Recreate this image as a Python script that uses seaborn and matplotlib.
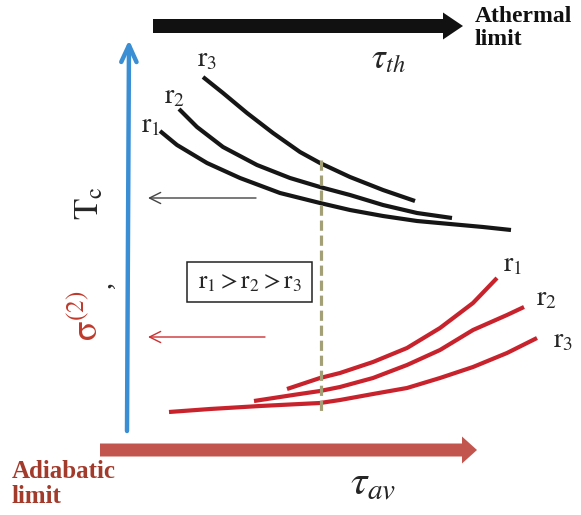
import matplotlib

matplotlib.use("Agg")
import matplotlib.pyplot as plt
import pandas as pd
import seaborn as sns
from matplotlib.patches import Rectangle

# Curve traces, in canvas units (x to the right, y downward).
TC_R1_X = [160, 177, 207, 240, 280, 320, 350, 383, 417, 450, 483, 511]
TC_R1_Y = [131, 145, 163, 178, 193, 203, 210, 216, 221, 224, 227, 230]
TC_R2_X = [179, 197, 223, 257, 290, 320, 350, 383, 417, 452]
TC_R2_Y = [109, 127, 147, 165, 178, 187, 195, 205, 213, 218]
TC_R3_X = [203, 223, 247, 273, 300, 320, 350, 383, 415]
TC_R3_Y = [77, 93, 113, 133, 152, 163, 177, 190, 201]

SIG_R1_X = [287, 320, 340, 373, 407, 440, 473, 497]
SIG_R1_Y = [389, 378, 373, 362, 348, 328, 303, 278]
SIG_R2_X = [254, 293, 320, 340, 373, 407, 440, 473, 507, 524]
SIG_R2_Y = [401, 395, 391, 387, 378, 365, 350, 330, 315, 307]
SIG_R3_X = [169, 210, 260, 320, 340, 373, 407, 440, 473, 507, 537]
SIG_R3_Y = [412, 409, 406, 403, 400, 394, 388, 378, 367, 353, 338]

CURVE_NAMES = ["r1", "r2", "r3"]
CURVE_LABELS = [r"$\mathrm{r}_1$", r"$\mathrm{r}_2$", r"$\mathrm{r}_3$"]

BLACK = "#161616"
RED = "#c8232c"
BLUE = "#3a8ed3"
OLIVE = "#a3a078"


def trace_frame(traces):
    parts = []
    for name, xs, ys in traces:
        parts.append(pd.DataFrame({"x": xs, "y": ys, "curve": name}))
    return pd.concat(parts, ignore_index=True)


tc_df = trace_frame(
    zip(CURVE_NAMES, [TC_R1_X, TC_R2_X, TC_R3_X], [TC_R1_Y, TC_R2_Y, TC_R3_Y])
)
sig_df = trace_frame(
    zip(CURVE_NAMES, [SIG_R1_X, SIG_R2_X, SIG_R3_X], [SIG_R1_Y, SIG_R2_Y, SIG_R3_Y])
)

sns.set_theme(style="white")
plt.rcParams["font.family"] = ["Liberation Serif", "DejaVu Serif"]
plt.rcParams["mathtext.fontset"] = "stix"

fig = plt.figure(figsize=(5.81, 5.15), dpi=100)
ax = fig.add_axes([0, 0, 1, 1])

for df, color in [(tc_df, BLACK), (sig_df, RED)]:
    sns.lineplot(
        data=df,
        x="x",
        y="y",
        units="curve",
        estimator=None,
        sort=False,
        color=color,
        linewidth=3,
        solid_joinstyle="round",
        solid_capstyle="butt",
        ax=ax,
    )

ax.set_xlim(0, 581)
ax.set_ylim(515, 0)
ax.axis("off")

# axes arrows
ax.annotate(
    "",
    xy=(129, 40),
    xytext=(127, 431),
    arrowprops=dict(
        arrowstyle="->,head_length=1.2,head_width=0.55",
        color=BLUE,
        lw=3.2,
        shrinkA=0,
        shrinkB=0,
        mutation_scale=10,
    ),
)
ax.arrow(153, 26, 310, 0, width=14, head_width=27, head_length=20,
         length_includes_head=True, fc="#111111", lw=0)
ax.arrow(100, 450, 377, 0, width=13, head_width=27, head_length=15,
         length_includes_head=True, fc="#c2564f", lw=0)

# pointer arrows to the vertical axis
for y, x0, color in [(198, 256, "#444444"), (337, 265, "#cc2f2f")]:
    ax.annotate(
        "",
        xy=(148, y),
        xytext=(x0, y),
        arrowprops=dict(
            arrowstyle="->,head_length=0.8,head_width=0.4",
            color=color,
            lw=1.0,
            shrinkA=0,
            shrinkB=0,
            mutation_scale=10,
        ),
    )

# dashed marker
ax.plot([321, 321], [160, 412], color=OLIVE, lw=2.3, linestyle=(0, (3.2, 1.5)))

# curve labels
for label, (x, y) in zip(CURVE_LABELS, [(151, 126), (174, 97), (207, 60)]):
    ax.text(x, y, label, fontsize=20, ha="center", va="center")
for label, (x, y) in zip(CURVE_LABELS, [(513, 265), (546, 299), (563, 341)]):
    ax.text(x, y, label, fontsize=20, ha="center", va="center")

ax.add_patch(Rectangle((187, 262), 125, 40, fill=False, ec="#222222", lw=1.1))
ax.text(250, 283, r"$\mathrm{r}_1 > \mathrm{r}_2 > \mathrm{r}_3$",
        fontsize=18, ha="center", va="center")

# axis titles
ax.text(90, 203, r"$\mathrm{T}_\mathrm{c}$", rotation=90, fontsize=25,
        ha="center", va="center")
ax.text(104, 284, ",", rotation=90, fontsize=20, ha="center", va="center")
ax.text(89, 316, r"$\mathrm{\sigma}^{(2)}$", rotation=90, fontsize=26,
        color="#c0392b", ha="center", va="center")

ax.text(388, 60, r"$\tau_{th}$", fontsize=25, ha="center", va="center")
ax.text(373, 485, r"$\tau_{av}$", fontsize=30, ha="center", va="center")

ax.text(475, 6, "Athermal\nlimit", fontsize=17, fontweight="bold",
        ha="left", va="top", linespacing=1.1, color="#111111")
ax.text(12, 460, "Adiabatic\nlimit", fontsize=18, fontweight="bold",
        ha="left", va="top", linespacing=1.1, color="#a33b2c")

fig.savefig("out.png", dpi=100)
